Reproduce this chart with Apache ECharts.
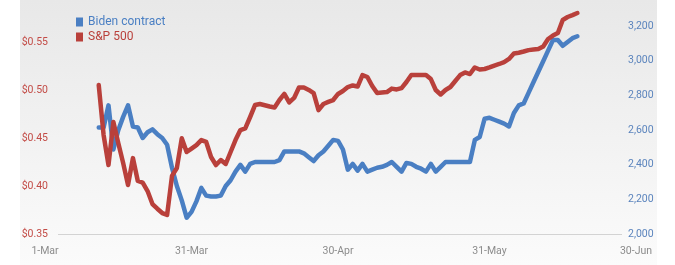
<!DOCTYPE html>
<html>
<head>
<meta charset="utf-8">
<script src="https://cdn.jsdelivr.net/npm/echarts@6/dist/echarts.min.js"></script>
<style>
html,body{margin:0;padding:0;background:#fff;}
#c{width:675px;height:265px;}
</style>
</head>
<body>
<div id="c"></div>
<script>
// Dates (2020) for both series
var dates = [
 '03-12','03-13','03-14','03-15','03-16','03-17','03-18','03-19','03-20','03-21',
 '03-22','03-23','03-24','03-25','03-26','03-27','03-28','03-29','03-30','03-31',
 '04-01','04-02','04-03','04-04','04-05','04-06','04-07','04-08','04-09','04-10',
 '04-11','04-12','04-13','04-14','04-15','04-16','04-17','04-18','04-19','04-20',
 '04-21','04-22','04-23','04-24','04-25','04-26','04-27','04-28','04-29','04-30',
 '05-01','05-02','05-03','05-04','05-05','05-06','05-07','05-08','05-09','05-10',
 '05-11','05-12','05-13','05-14','05-15','05-16','05-17','05-18','05-19','05-20',
 '05-21','05-22','05-23','05-24','05-25','05-26','05-27','05-28','05-29','05-30',
 '05-31','06-01','06-02','06-03','06-04','06-05','06-06','06-07','06-08','06-09',
 '06-10','06-11','06-12','06-13','06-14','06-15','06-16','06-17','06-18'
];
// Biden contract price ($), left axis
var bidenContract = [
 0.461,0.461,0.484,0.438,0.458,0.472,0.484,0.462,0.461,0.450,
 0.456,0.459,0.454,0.450,0.443,0.419,0.400,0.385,0.367,0.373,
 0.384,0.398,0.390,0.389,0.389,0.390,0.400,0.406,0.415,0.422,
 0.415,0.423,0.425,0.425,0.425,0.425,0.425,0.427,0.436,0.436,
 0.436,0.436,0.434,0.430,0.426,0.432,0.436,0.442,0.448,0.447,
 0.438,0.417,0.423,0.416,0.423,0.415,0.417,0.419,0.420,0.422,
 0.425,0.420,0.415,0.424,0.423,0.420,0.418,0.415,0.423,0.415,
 0.420,0.425,0.425,0.425,0.425,0.425,0.425,0.448,0.451,0.470,
 0.471,0.469,0.467,0.465,0.462,0.476,0.484,0.486,0.497,0.508,
 0.519,0.530,0.541,0.552,0.552,0.546,0.550,0.554,0.556
];
// S&P 500 index, right axis
var sp500 = [
 2860,2571,2398,2646,2525,2410,2283,2438,2306,2297,
 2248,2173,2146,2121,2110,2335,2381,2552,2473,2493,
 2513,2542,2531,2444,2398,2427,2404,2473,2542,2600,
 2610,2675,2744,2750,2743,2736,2730,2773,2808,2759,
 2785,2845,2845,2831,2813,2715,2750,2762,2773,2808,
 2825,2848,2857,2851,2917,2906,2854,2813,2816,2819,
 2839,2834,2842,2877,2917,2917,2917,2917,2894,2831,
 2805,2831,2848,2883,2917,2932,2923,2961,2949,2952,
 2961,2972,2981,2992,3010,3041,3046,3053,3061,3064,
 3067,3082,3125,3145,3160,3235,3252,3263,3275
];
var xTickDates = ['03-01','03-31','04-30','05-31','06-30'];
var xTickLabels = ['1-Mar','31-Mar','30-Apr','31-May','30-Jun'];
var seriesNames = ['Biden contract','S&P 500'];

function dayOf(md){
  var p = md.split('-');
  return Math.round((Date.UTC(2020, +p[0]-1, +p[1]) - Date.UTC(2020,2,1)) / 86400000);
}
var tickDays = xTickDates.map(dayOf);
var blueData = dates.map(function(d,i){ return [dayOf(d), bidenContract[i]]; });
var redData = dates.map(function(d,i){ return [dayOf(d), sp500[i]]; });

var BLUE = '#4a7fc3', RED = '#b9403b';
var FONT = "'Roboto',sans-serif";

var chart = echarts.init(document.getElementById('c'), null, {renderer:'canvas'});
chart.setOption({
  animation:false,
  textStyle:{fontFamily:FONT},
  graphic:[
    {type:'rect', z:-10, shape:{x:20,y:0,width:637,height:265},
     style:{fill:new echarts.graphic.LinearGradient(0,0,0,1,[{offset:0,color:'#e8e8e8'},{offset:1,color:'#fbfbfb'}])}},
    {type:'line', z:-5, shape:{x1:58,y1:234.5,x2:622,y2:234.5}, style:{stroke:'#d3d3d3',lineWidth:1}}
  ],
  legend:{
    orient:'vertical', left:71, top:10, itemWidth:7, itemHeight:9, itemGap:1,
    icon:'rect',
    data:[
      {name:seriesNames[0], textStyle:{color:BLUE}},
      {name:seriesNames[1], textStyle:{color:RED}}
    ],
    textStyle:{fontSize:12, lineHeight:14, fontFamily:FONT}
  },
  grid:{left:45, right:39, top:8, bottom:31, containLabel:false},
  xAxis:{
    type:'value', min:0, max:121,
    axisLine:{show:false}, axisTick:{show:false}, splitLine:{show:false},
    axisLabel:{
      customValues:tickDays, margin:12, color:'#8c8c8c', fontSize:10.5, fontFamily:FONT,
      formatter:function(v){ var k=tickDays.indexOf(Math.round(v)); return k>=0?xTickLabels[k]:''; }
    }
  },
  yAxis:[
    {type:'value', position:'left', min:0.35, max:0.5854, interval:0.05,
     axisLine:{show:false}, axisTick:{show:false}, splitLine:{show:false},
     axisLabel:{showMaxLabel:false, margin:-3, color:'#c34c47', fontSize:10.5, fontFamily:FONT,
       formatter:function(v){ return '$'+v.toFixed(2); }}},
    {type:'value', position:'right', min:2000, max:3304, interval:200,
     axisLine:{show:false}, axisTick:{show:false}, splitLine:{show:false},
     axisLabel:{showMaxLabel:false, margin:-8, color:'#5b84bd', fontSize:10.5, fontFamily:FONT,
       formatter:function(v){ return v.toLocaleString('en-US'); }}}
  ],
  series:[
    {name:seriesNames[0], type:'line', yAxisIndex:0, data:blueData, showSymbol:false,
     lineStyle:{color:BLUE, width:4.5, join:'round', cap:'round'}, itemStyle:{color:BLUE}},
    {name:seriesNames[1], type:'line', yAxisIndex:1, data:redData, showSymbol:false,
     lineStyle:{color:RED, width:4.5, join:'round', cap:'round'}, itemStyle:{color:RED}}
  ]
});
</script>
</body>
</html>
